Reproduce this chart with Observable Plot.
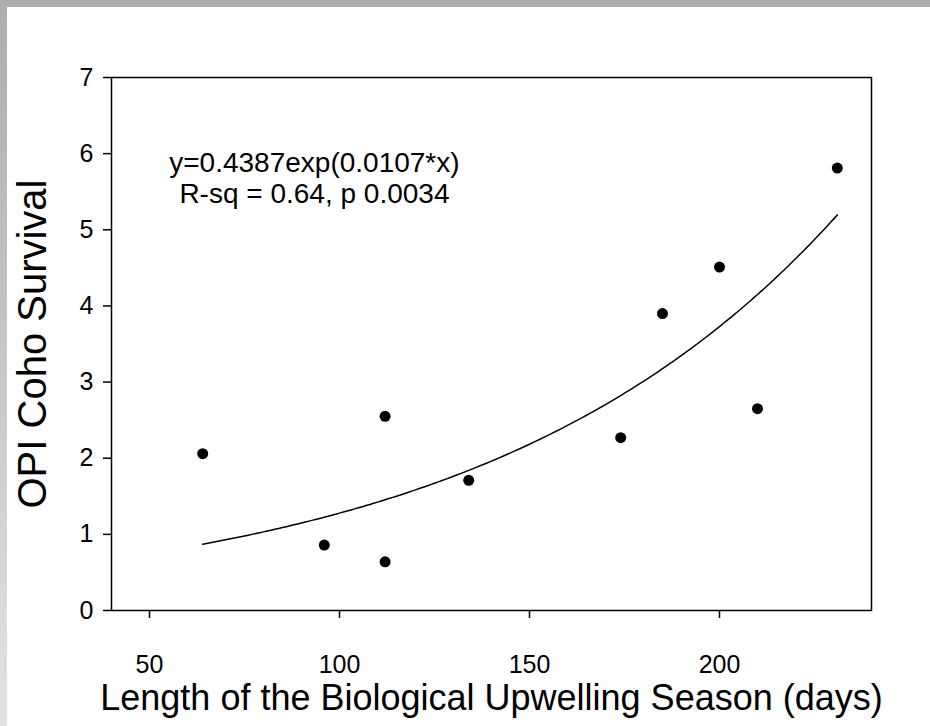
<!DOCTYPE html>
<html>
<head>
<meta charset="utf-8">
<script src="https://cdn.jsdelivr.net/npm/d3@7"></script>
<script src="https://cdn.jsdelivr.net/npm/@observablehq/plot@0.6"></script>
<style>
  html, body { margin: 0; padding: 0; background: #fff; }
  #wrap { position: relative; width: 930px; height: 726px; overflow: hidden; background: #fff; }
  #topbar { position: absolute; left: 0; top: 0; width: 930px; height: 7px; background: #adadad; }
  #leftbar { position: absolute; left: 0; top: 0; width: 7px; height: 726px;
             background: linear-gradient(to bottom, #adadad, #e2e2e2); }
  svg { font-family: Arial, "Liberation Sans", sans-serif; }
</style>
</head>
<body>
<div id="wrap"><div id="topbar"></div><div id="leftbar"></div></div>
<script>
// Observations: length of upwelling season (days) vs OPI coho survival
const days     = [64, 96, 112, 112, 134, 174, 185, 200, 210, 231];
const survival = [2.06, 0.86, 2.55, 0.64, 1.71, 2.27, 3.90, 4.51, 2.65, 5.81];

// Fitted model shown on the chart: y = a * exp(b * x)
const fitA = 0.4387;
const fitB = 0.0107;
const fitRange = [64, 231];

const xTicks = [50, 100, 150, 200];
const yTicks = [0, 1, 2, 3, 4, 5, 6, 7];

const annotation = ["y=0.4387exp(0.0107*x)", "R-sq = 0.64, p 0.0034"];
const annotationX = 93.4;
const annotationY = [5.76, 5.355];

const points = days.map((d, i) => ({days: d, survival: survival[i]}));
const fit = d3.range(fitRange[0], fitRange[1] + 0.5, 1).map(x => ({days: x, survival: fitA * Math.exp(fitB * x)}));

const chart = Plot.plot({
  width: 930,
  height: 726,
  marginLeft: 111,
  marginRight: 59,
  marginTop: 77,
  marginBottom: 116,
  style: {background: "transparent", fontFamily: "Arial, 'Liberation Sans', sans-serif", color: "#000"},
  x: {domain: [40, 240]},
  y: {domain: [0, 7]},
  marks: [
    Plot.frame({stroke: "#000", strokeWidth: 1.5}),
    Plot.axisX({ticks: xTicks, tickFormat: d => String(d), tickSize: 8, tickPadding: 37, fontSize: 25, label: null, stroke: "#000", strokeWidth: 1.5}),
    Plot.axisY({ticks: yTicks, tickFormat: d => String(d), tickSize: 8, tickPadding: 10, fontSize: 25, label: null, stroke: "#000", strokeWidth: 1.5}),
    Plot.text(["OPI Coho Survival"], {frameAnchor: "left", dx: -78, rotate: -90, textAnchor: "middle", fontSize: 40, fill: "#000"}),
    Plot.text(["Length of the Biological Upwelling Season (days)"], {frameAnchor: "bottom", dy: 99, lineAnchor: "bottom", textAnchor: "middle", fontSize: 36, fill: "#000"}),
    Plot.line(fit, {x: "days", y: "survival", stroke: "#000", strokeWidth: 1.5}),
    Plot.dot(points, {x: "days", y: "survival", r: 5.5, fill: "#000", stroke: "none"}),
    Plot.text(annotation, {x: () => annotationX, y: (d, i) => annotationY[i], text: d => d, fontSize: 28, lineAnchor: "bottom", fill: "#000", textAnchor: "middle"})
  ]
});
const wrap = document.getElementById("wrap");
wrap.appendChild(chart);
chart.style.position = "absolute";
chart.style.left = "0";
chart.style.top = "0";
wrap.appendChild(document.getElementById("topbar"));
wrap.appendChild(document.getElementById("leftbar"));
</script>
</body>
</html>
